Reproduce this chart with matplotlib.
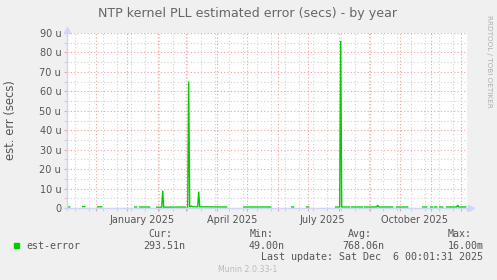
#-------------------------------------------------------------------------------
# Munin style yearly graph: NTP kernel PLL estimated error
#-------------------------------------------------------------------------------
import numpy as np
import matplotlib
matplotlib.use("Agg")
import matplotlib.pyplot as plt
import matplotlib.dates as mdates
from matplotlib.ticker import FixedLocator
from matplotlib.patches import Rectangle
import pandas as pd

nan = np.nan
#-------------------------------------------------------------------------------
# Data (est-error in micro seconds, nan = no data)
#-------------------------------------------------------------------------------
err_dates = [
    "2024-11-02", "2024-11-05", "2024-11-06",
    "2024-11-18", "2024-11-20", "2024-11-21",
    "2024-12-03", "2024-12-07", "2024-12-08",
    "2025-01-09", "2025-01-11", "2025-01-12",
    "2025-01-14", "2025-01-24", "2025-01-25",
    "2025-01-31", "2025-02-05", "2025-02-06", "2025-02-07", "2025-03-01", "2025-03-02",
    "2025-03-03", "2025-03-04", "2025-03-05", "2025-03-07", "2025-03-08",
    "2025-03-13", "2025-03-14", "2025-03-15", "2025-04-11", "2025-04-12",
    "2025-04-28", "2025-05-25", "2025-05-26",
    "2025-06-15", "2025-06-17", "2025-06-18",
    "2025-06-30", "2025-07-02", "2025-07-03",
    "2025-07-29", "2025-08-02", "2025-08-03", "2025-08-04", "2025-08-12", "2025-08-13",
    "2025-08-14", "2025-08-25", "2025-08-26",
    "2025-08-27", "2025-09-08", "2025-09-09", "2025-09-10", "2025-09-24", "2025-09-25",
    "2025-09-28", "2025-10-09", "2025-10-10",
    "2025-10-24", "2025-10-28", "2025-10-29",
    "2025-11-01", "2025-11-03", "2025-11-04",
    "2025-11-05", "2025-11-07", "2025-11-08",
    "2025-11-10", "2025-11-13", "2025-11-14",
    "2025-11-17", "2025-11-27", "2025-11-28", "2025-11-29", "2025-12-06",
]
err_values = [
    0.5, 0.5, nan,
    0.7, 0.7, nan,
    0.6, 0.6, nan,
    0.5, 0.5, nan,
    0.5, 0.5, nan,
    0.4, 0.4, 8.9, 0.4, 0.5, nan,
    0.5, 65.0, 0.6, 1.0, 0.6,
    0.6, 8.4, 0.6, 0.5, nan,
    0.5, 0.5, nan,
    0.5, 0.5, nan,
    0.5, 0.5, nan,
    0.5, 0.5, 85.9, 0.5, 0.5, nan,
    0.5, 0.5, nan,
    0.5, 0.5, 1.4, 0.5, 0.5, nan,
    0.5, 0.5, nan,
    0.5, 0.5, nan,
    0.5, 0.5, nan,
    0.5, 0.5, nan,
    0.5, 0.5, nan,
    0.5, 0.5, 1.5, 0.5, 0.5,
]

y_ticks = [0, 10, 20, 30, 40, 50, 60, 70, 80, 90]
x_start, x_end = "2024-11-02", "2025-12-07"
label_dates = ["2025-01-16", "2025-04-16", "2025-07-16", "2025-10-16"]
label_texts = ["January 2025", "April 2025", "July 2025", "October 2025"]

legend_name = "est-error"
legend_heads = ["Cur:", "Min:", "Avg:", "Max:"]
legend_vals = ["293.51n", "49.00n", "768.06n", "16.00m"]
last_update = "Last update: Sat Dec  6 00:01:31 2025"

#-------------------------------------------------------------------------------
# Colours
#-------------------------------------------------------------------------------
BACK = "#f0f0f0"
AXIS = "#cfd6f8"
FONT = "#555555"
GRID = "#d2d2d2"
MGRID = "#f2a0a0"
GREEN = "#00cc00"

W, H = 497, 280
fig = plt.figure(figsize=(W / 100, H / 100), dpi=100, facecolor=BACK)

def fx(x):
    return x / W

def fy(y):
    return 1 - y / H

# plot area in pixels
L, T, R, B = 66.7, 33, 466.7, 208
ax = fig.add_axes([fx(L), fy(B), (R - L) / W, (B - T) / H])
ax.set_facecolor("white")

dates = pd.to_datetime(err_dates)
ax.plot(dates, err_values, color=GREEN, lw=1.0, solid_joinstyle="miter", zorder=3)

ax.set_xlim(pd.Timestamp(x_start), pd.Timestamp(x_end))
ax.set_ylim(0, 90)

#-------------------------------------------------------------------------------
# Grid: red at month starts, grey every second sunday
#-------------------------------------------------------------------------------
ax.xaxis.set_major_locator(mdates.MonthLocator())
weeks = pd.date_range("2024-10-27", "2025-12-31", freq="14D")
ax.xaxis.set_minor_locator(FixedLocator(mdates.date2num(weeks)))
ax.xaxis.set_major_formatter(plt.NullFormatter())
ax.set_yticks(y_ticks)
ax.set_yticks([v + 5 for v in y_ticks[:-1]], minor=True)
ax.set_yticklabels(["0" if v == 0 else "%d u" % v for v in y_ticks])

dots = (0, (1, 2))
ax.grid(which="minor", color=GRID, lw=0.8, ls=dots, zorder=1)
ax.grid(which="major", color=MGRID, lw=0.8, ls=dots, zorder=2)
ax.tick_params(which="both", length=2, width=0.8, pad=2,
               labelsize=7, labelcolor=FONT)
ax.tick_params(which="major", color=MGRID)
ax.tick_params(which="minor", color=GRID)

for s in ax.spines.values():
    s.set_visible(False)

# axis lines with arrows
ax.plot([-0.008, 1.01], [0, 0], color=AXIS, lw=1, transform=ax.transAxes,
        clip_on=False, zorder=4)
ax.plot([0, 0], [-0.012, 1.02], color=AXIS, lw=1, transform=ax.transAxes,
        clip_on=False, zorder=4)
ax.plot([1.01], [0], marker=">", ms=4, color=AXIS, transform=ax.transAxes,
        clip_on=False, zorder=4)
ax.plot([0], [1.02], marker="^", ms=4, color=AXIS, transform=ax.transAxes,
        clip_on=False, zorder=4)

for d, t in zip(label_dates, label_texts):
    ax.text(pd.Timestamp(d), -0.04, t, transform=ax.get_xaxis_transform(),
            ha="center", va="top", fontsize=7, color=FONT)

fig.text(fx(11), fy(120), "est. err (secs)", rotation=90, ha="center",
         va="center", fontsize=8.4, color=FONT)

#-------------------------------------------------------------------------------
# Title, legend and footer
#-------------------------------------------------------------------------------
fig.text(fx(248), fy(13.5), "NTP kernel PLL estimated error (secs) - by year",
         ha="center", va="center", fontsize=9.1, color="#666666")
fig.text(fx(489), fy(15), "RRDTOOL / TOBI OETIKER", rotation=270,
         ha="center", va="top", fontsize=5.2, color="#b0b0b0")

mono = dict(family="DejaVu Sans Mono", fontsize=7.2, color=FONT, va="center")
fig.patches.append(Rectangle((fx(14), fy(247.7)), 5.3 / W, 5 / H,
                             transform=fig.transFigure, color=GREEN))
fig.text(fx(26.7), fy(245.7), legend_name, ha="left", **mono)
head_x = [148.3, 250, 348.3, 447.3]
val_right = [185, 285, 384, 483.3]
for hx, h, vr, v in zip(head_x, legend_heads, val_right, legend_vals):
    fig.text(fx(hx), fy(234), h, ha="left", **mono)
    fig.text(fx(vr), fy(245.7), v, ha="right", **mono)
fig.text(fx(483.3), fy(257.3), last_update, ha="right", **mono)

fig.text(fx(248), fy(269.3), "Munin 2.0.33-1", ha="center", va="center",
         fontsize=5.7, color="#bbbbbb")

fig.savefig("out.png", dpi=100, facecolor=BACK)
